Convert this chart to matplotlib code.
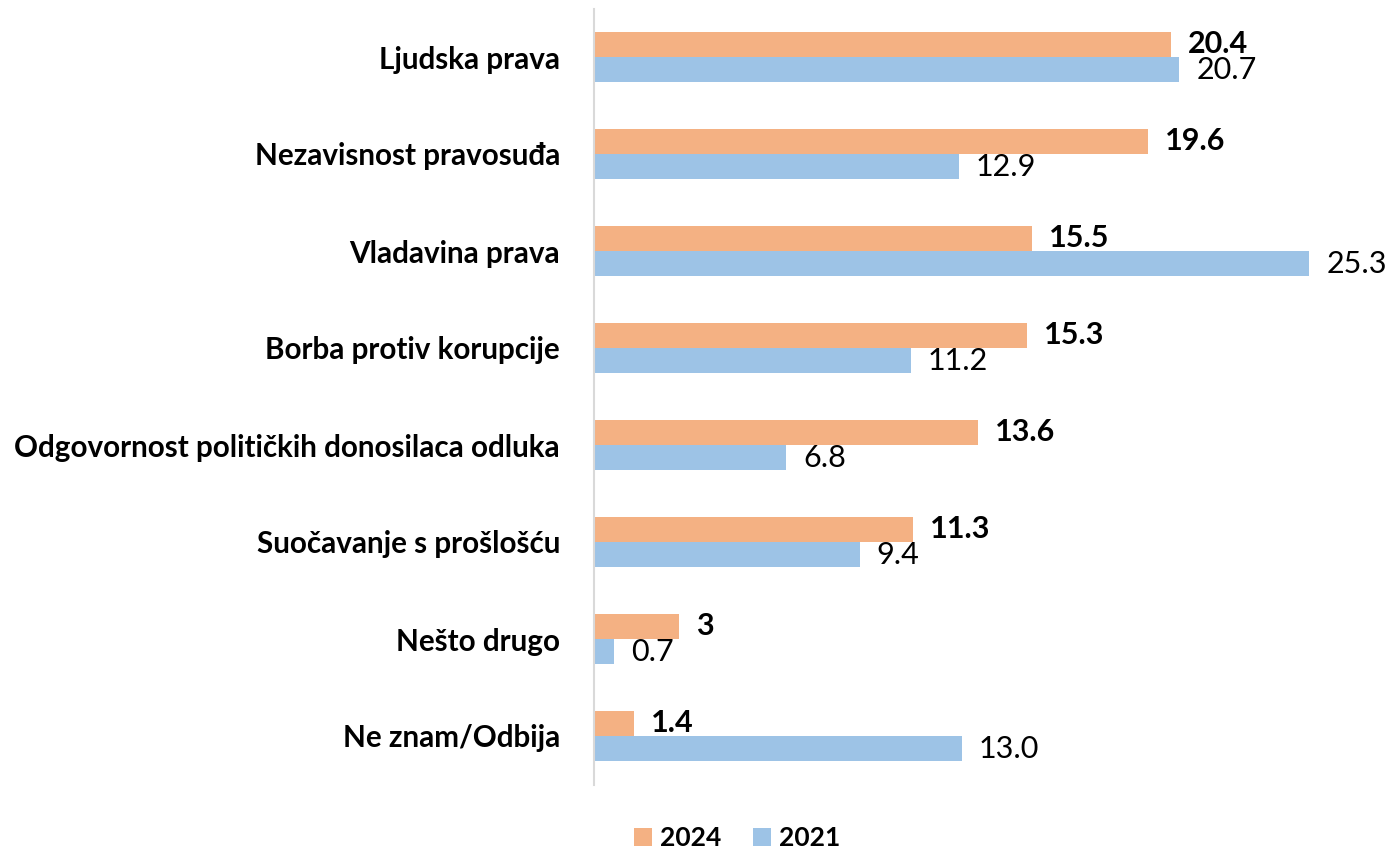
import matplotlib
matplotlib.use("Agg")
import matplotlib.pyplot as plt
from matplotlib.patches import Patch

categories = ["Ljudska prava", "Nezavisnost pravosuđa", "Vladavina prava",
              "Borba protiv korupcije", "Odgovornost političkih donosilaca odluka",
              "Suočavanje s prošlošću", "Nešto drugo", "Ne znam/Odbija"]
values_2024 = [20.4, 19.6, 15.5, 15.3, 13.6, 11.3, 3, 1.4]
values_2021 = [20.7, 12.9, 25.3, 11.2, 6.8, 9.4, 0.7, 13.0]
labels_2024 = ["20.4", "19.6", "15.5", "15.3", "13.6", "11.3", "3", "1.4"]
labels_2021 = ["20.7", "12.9", "25.3", "11.2", "6.8", "9.4", "0.7", "13.0"]
series_names = ["2024", "2021"]

c24 = "#F4B183"
c21 = "#9DC3E6"
FONT = "Lato"

W, H = 1393, 851
fig = plt.figure(figsize=(W / 100, H / 100), dpi=100)
ax_left = 594 / W
ax_right = 1329 / W
ax_top = 1 - 8.5 / H
ax_bot = 1 - 784.5 / H
ax = fig.add_axes([ax_left, ax_bot, ax_right - ax_left, ax_top - ax_bot])

n = len(categories)
ys = list(range(n))
bh = 0.26
ax.barh([y - bh / 2 for y in ys], values_2024, height=bh, color=c24, edgecolor="none")
ax.barh([y + bh / 2 for y in ys], values_2021, height=bh, color=c21, edgecolor="none")

ax.set_xlim(0, 26.0)
ax.set_ylim(n - 0.5, -0.5)
ax.set_xticks([])
ax.set_yticks(ys)
ax.set_yticklabels(categories, fontsize=21.3, fontweight="bold", family=FONT)
ax.tick_params(axis="y", length=0, pad=24.5)
for s in ["top", "right", "bottom"]:
    ax.spines[s].set_visible(False)
ax.spines["left"].set_color("#D9D9D9")
ax.spines["left"].set_linewidth(1.5)

off = 0.6
for y, v, t in zip(ys, values_2024, labels_2024):
    ax.text(v + off, y - bh / 2, t, va="center", ha="left", fontsize=22,
            fontweight="bold", family=FONT)
for y, v, t in zip(ys, values_2021, labels_2021):
    ax.text(v + off, y + bh / 2, t, va="center", ha="left", fontsize=22,
            family=FONT)

handles = [Patch(facecolor=c24), Patch(facecolor=c21)]
leg = fig.legend(handles, series_names, loc="center", bbox_to_anchor=(737 / W, 1 - 838 / H),
                 ncol=2, frameon=False, handlelength=0.7, handleheight=0.7,
                 handletextpad=0.3, columnspacing=1.2,
                 prop={"family": FONT, "weight": "bold", "size": 19})

fig.savefig("out.png", dpi=100)
